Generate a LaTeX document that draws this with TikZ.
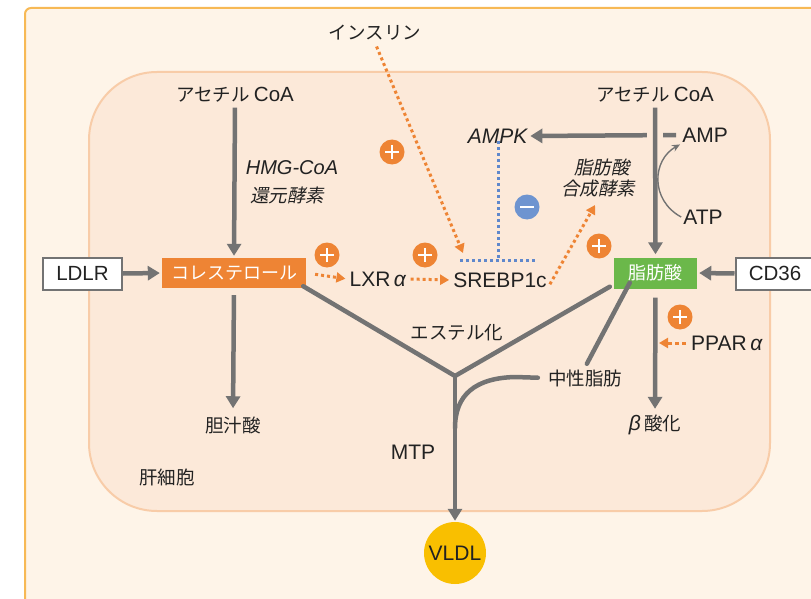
\documentclass[tikz,border=0pt]{standalone}
\usepackage{fontspec}
\setmainfont{Liberation Sans}
\newfontfamily\jp{Noto Sans CJK JP}
\newfontfamily\jpit[FakeSlant=0.2]{Noto Sans CJK JP}
\newfontfamily\lat{Liberation Sans}
\usetikzlibrary{arrows.meta}
\definecolor{outerfill}{HTML}{FEF4E8}
\definecolor{outerline}{HTML}{F7B955}
\definecolor{cellfill}{HTML}{FCE9D9}
\definecolor{cellline}{HTML}{F8CCA8}
\definecolor{lgray}{HTML}{737373}
\definecolor{orng}{HTML}{EE8434}
\definecolor{grn}{HTML}{6BB84A}
\definecolor{bdot}{HTML}{6E94D0}
\definecolor{bdotline}{HTML}{5F88CC}
\definecolor{vyel}{HTML}{F9BF00}
\definecolor{txt}{HTML}{222222}
\tikzset{
  lbl/.style={font=\fontsize{21}{24}\selectfont, text=txt, inner sep=2pt},
  jlbl/.style={font=\fontsize{18.5}{21}\selectfont\jp, text=txt, inner sep=2pt},
  jilbl/.style={font=\fontsize{18.5}{21}\selectfont\jpit, text=txt, inner sep=2pt},
  cholbox/.style={fill=orng, text=white, minimum width=144pt, minimum height=30pt, inner sep=0pt, font=\fontsize{18}{21}\selectfont\jp},
  fabox/.style={fill=grn, text=white, minimum width=83pt, minimum height=31pt, inner sep=0pt, font=\fontsize{18}{21}\selectfont\jp},
  extbox/.style={draw=lgray, line width=2pt, fill=white, text=txt, minimum width=79pt, minimum height=32pt, inner sep=0pt, font=\fontsize{20.5}{23}\selectfont},
  vldlnode/.style={circle, fill=vyel, minimum size=62pt, inner sep=0pt, text=txt, font=\fontsize{21}{24}\selectfont},
  plusc/.style={circle, fill=orng, minimum size=25pt, inner sep=0pt,
    path picture={\draw[white, line width=2.2pt] ([xshift=-7pt]path picture bounding box.center) -- ([xshift=7pt]path picture bounding box.center);
      \draw[white, line width=2.2pt] ([yshift=-7pt]path picture bounding box.center) -- ([yshift=7pt]path picture bounding box.center);}},
  minusc/.style={circle, fill=bdot, minimum size=25pt, inner sep=0pt,
    path picture={\draw[white, line width=2.2pt] ([xshift=-7pt]path picture bounding box.center) -- ([xshift=7pt]path picture bounding box.center);}},
  grayarrow/.style={draw=lgray, line width=4.5pt, -{Triangle[length=12pt,width=14pt]}},
  grayline/.style={draw=lgray, line width=4.5pt, line cap=round, line join=round},
  thinarrow/.style={draw=lgray, line width=1.4pt, -{Stealth[length=8pt,width=7pt]}},
  orarrow/.style={draw=orng, line width=3pt, dash pattern=on 3pt off 3pt, -{Triangle[length=9pt,width=10pt]}},
  bluedot/.style={draw=bdotline, line width=3pt, dash pattern=on 3pt off 3pt},
}
\begin{document}
\begin{tikzpicture}[x=1pt,y=-1pt]
\useasboundingbox (0,0) rectangle (811,599);
\clip (0,0) rectangle (811,599);
% frames
\draw[fill=outerfill, draw=outerline, line width=2pt, rounded corners=6pt] (25,8) rectangle (850,650);
\draw[fill=cellfill, draw=cellline, line width=2pt, rounded corners=68pt] (89,72) rectangle (770,511);

% nodes
\node[jlbl] (acL) at (235,95) {アセチル {\lat\fontsize{20.5}{23}\selectfont CoA}};
\node[jlbl] (acR) at (655,95) {アセチル {\lat\fontsize{20.5}{23}\selectfont CoA}};
\node[cholbox] (chol) at (234,273) {コレステロール};
\node[fabox] (fa) at (655.5,273) {脂肪酸};
\node[extbox] (ldlr) at (82.5,273.5) {LDLR};
\node[extbox] (cd36) at (775,273.5) {CD36};
\node[lbl] (lxr) at (378,279) {LXR\,\textit{α}};
\node[lbl] (srebp) at (500,280) {SREBP1c};
\node[jlbl] (ins) at (375,33) {インスリン};
\node[lbl] (ampk) at (498,136) {\textit{AMPK}};
\node[lbl] (amp) at (705,135) {AMP};
\node[lbl] (atp) at (703,217) {ATP};
\node[lbl, font=\fontsize{20}{23}\selectfont\itshape] (hmg) at (292,168) {HMG-CoA};
\node[jilbl] (hmg2) at (287,195) {還元酵素};
\node[jilbl] (fas1) at (602,167) {脂肪酸};
\node[jilbl] (fas2) at (598,189) {合成酵素};
\node[jlbl] (bile) at (233,425) {胆汁酸};
\node[jlbl] (hep) at (167,477) {肝細胞};
\node[jlbl] (ester) at (457,333) {エステル化};
\node[jlbl] (tg) at (585,378) {中性脂肪};
\node[lbl] (mtp) at (413,452) {MTP};
\node[jlbl] (beta) at (655,425) {{\lat\fontsize{21}{24}\selectfont\itshape β}\,酸化};
\node[lbl] (ppar) at (727,343) {PPAR\,\textit{α}};
\node[vldlnode] (vldl) at (455,553) {VLDL};

\node[plusc] (p1) at (327,255) {};
\node[plusc] (p2) at (425,255) {};
\node[plusc] (p3) at (392,152) {};
\node[plusc] (p4) at (599,246) {};
\node[plusc] (p5) at (680,317) {};
\node[minusc] (m1) at (527,207) {};

\coordinate (junc) at (455,376);
\coordinate (insT) at (463,253);
\coordinate (tMid) at (498,260);
\coordinate (tL) at (460,260);
\coordinate (tR) at (537,260);
\coordinate (pparT) at (659,343);
\coordinate (tgc) at (515,377);
\coordinate (mtpj) at (455,428);
\coordinate (gapT) at (655,125);
\coordinate (gapB) at (655,145);

% connectors
\draw[grayarrow, shorten <=3pt, shorten >=2pt] (acL.south) -- (chol.north);
\draw[grayarrow, shorten >=2pt] (ldlr.east) -- (chol.west);
\draw[grayarrow, shorten <=7pt, shorten >=6pt] (chol.south) -- (bile.north);
\draw[grayarrow, shorten <=4pt] (amp.west) -- (ampk.east);
\draw[cellfill, line width=16pt] (gapT) -- (gapB);
\draw[grayarrow, shorten <=3pt, shorten >=3pt] (acR.south) -- (fa.north);
\draw[grayarrow, shorten >=2pt] (cd36.west) -- (fa.east);
\draw[grayarrow, shorten <=9pt, shorten >=4pt] (fa.south) -- (beta.north);
\draw[thinarrow] (atp.west) .. controls (650,200) and (652,160) .. (amp.south west);

\draw[grayline] ([xshift=-3pt,yshift=2pt]chol.south east) -- (junc);
\draw[grayline] ([xshift=-4pt,yshift=2pt]fa.south west) -- (junc);
\draw[grayline, shorten >=4pt] ([xshift=16pt,yshift=6pt]fa.south west) -- (tg.north);
\draw[grayline, shorten <=8pt] (tg.west) -- (tgc) .. controls (475,378) and (455,395) .. (mtpj);
\draw[grayarrow, shorten >=1pt] (junc) -- (vldl.north);

\draw[orarrow, shorten <=9pt, shorten >=2pt] (chol.east) -- (lxr.west);
\draw[orarrow, shorten <=2pt, shorten >=2pt] (lxr.east) -- (srebp.west);
\draw[orarrow, shorten <=4pt] (ins.south) -- (insT);
\draw[orarrow, shorten <=2pt, shorten >=6pt] ([yshift=-6pt]srebp.east) -- (fas2.south);
\draw[orarrow, dash pattern=on 4pt off 3pt, shorten <=3pt] (ppar.west) -- (pparT);

\draw[bluedot] ([yshift=4pt]ampk.south) -- (tMid);
\draw[bluedot] (tL) -- (tR);
\end{tikzpicture}
\end{document}
